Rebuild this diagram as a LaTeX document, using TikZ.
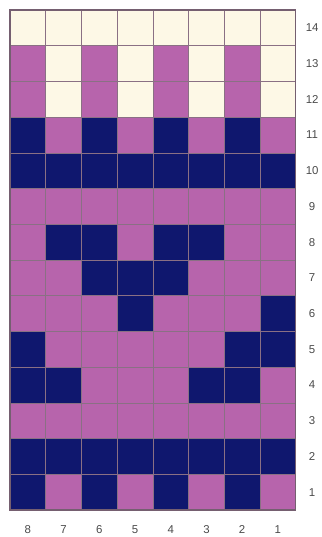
\documentclass[tikz,border=0pt]{standalone}
\usepackage{fontspec}
\setsansfont{Liberation Sans}
\usepackage{xcolor}
\definecolor{cN}{HTML}{0F176E}
\definecolor{cP}{HTML}{B764AC}
\definecolor{cC}{HTML}{FDF8E6}
\definecolor{gridl}{HTML}{8A7084}
\definecolor{labtxt}{HTML}{4A4A4A}
\usepackage{tikz}

\begin{document}
\begin{tikzpicture}[
  x=0.714cm,y=0.714cm,
  font=\sffamily\fontsize{6.5}{7}\selectfont,
  cell/.style={draw=gridl,line width=0.3pt},
  frame/.style={draw=gridl!85!black,line width=0.6pt},
  lab/.style={text=labtxt,inner sep=1pt}]
\useasboundingbox (-0.28,-0.756) rectangle (8.71,14.28);
% chart rows, top to bottom, stitches 8..1 from left
\foreach \row/\cells in {
  14/{C,C,C,C,C,C,C,C},
  13/{P,C,P,C,P,C,P,C},
  12/{P,C,P,C,P,C,P,C},
  11/{N,P,N,P,N,P,N,P},
  10/{N,N,N,N,N,N,N,N},
  9/{P,P,P,P,P,P,P,P},
  8/{P,N,N,P,N,N,P,P},
  7/{P,P,N,N,N,P,P,P},
  6/{P,P,P,N,P,P,P,N},
  5/{N,P,P,P,P,P,N,N},
  4/{N,N,P,P,P,N,N,P},
  3/{P,P,P,P,P,P,P,P},
  2/{N,N,N,N,N,N,N,N},
  1/{N,P,N,P,N,P,N,P}}{
  \foreach \k [count=\col from 0] in \cells
    \draw[cell,fill=c\k] (\col,\row-1) rectangle ++(1,1);
  \node[lab] (r\row) at (8.46,\row-0.5) {\row};
}
\draw[frame] (0,0) rectangle (8,14);
% stitch numbers
\foreach \n [count=\i] in {8,7,...,1}
  \node[lab] (s\n) at (\i-0.5,-0.56) {\n};
\end{tikzpicture}
\end{document}
